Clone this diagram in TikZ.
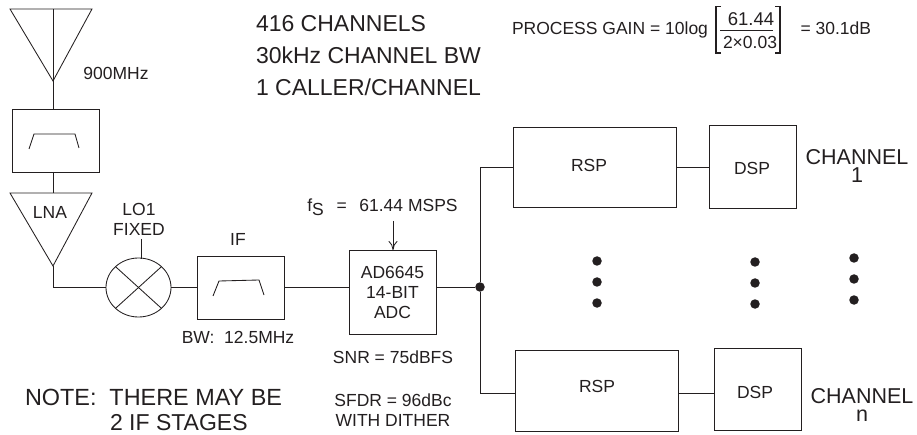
\documentclass[tikz,border=0pt]{standalone}
\usepackage{fontspec}
\setmainfont{Liberation Sans}
\usepackage{xcolor}
\usetikzlibrary{shapes.geometric,arrows.meta,positioning,calc}
\definecolor{inkdark}{RGB}{35,31,32}
\newcommand{\smalltext}{\fontsize{17.5}{20}\selectfont}
\newcommand{\bigtext}{\fontsize{23}{32}\selectfont}
\newcommand{\chantext}{\fontsize{21.5}{18}\selectfont}

\begin{document}
\begin{tikzpicture}[
        x=1pt, y=-1pt,
        node distance=33pt,
        line width=0.85pt, color=inkdark,
        every node/.style={inner sep=0pt, outer sep=0pt, text=inkdark},
        block/.style={rectangle, draw, minimum width=87pt, align=center, font=\smalltext},
        mixer/.style={ellipse, draw, minimum width=65pt, minimum height=59pt},
        label/.style={font=\smalltext, align=center},
        biglabel/.style={font=\bigtext, align=left},
        chanlabel/.style={font=\chantext, align=center},
        arrow/.style={-{Computer Modern Rightarrow[length=9pt,width=9pt]}},
        dot/.style={circle, fill=inkdark, minimum size=9.5pt}
    ]
        \useasboundingbox (0,0) rectangle (917,435);

        % Antenna
        \coordinate (antTip) at (53,81);
        \draw (10,9) -- (92,9) -- (antTip) -- cycle;
        \draw (53,9) -- (antTip);
        \node[label] (ant) at (116,73) {900MHz};

        % RF filter
        \node[block, minimum height=63pt] (rfFilter) at (56,140.5) {};
        \draw (29,149) -- (34,134) -- (75,134) -- (79,148);
        \draw (antTip) -- (antTip |- rfFilter.north);

        % LNA
        \coordinate (lnaTop) at (53,193);
        \coordinate (lnaTip) at (53,266);
        \draw (10,193) -- (92,193) -- (lnaTip) -- cycle;
        \node[label] (lna) at (50,212) {LNA};
        \draw (lnaTop |- rfFilter.south) -- (lnaTop);

        % Mixer
        \node[mixer] (mix) at (138.5,287.5) {};
        \draw (mix.north west) -- (mix.south east);
        \draw (mix.north east) -- (mix.south west);
        \node[label] (lo) at (139,219) {LO1\\FIXED};
        \draw (141,239) -- (141,259);
        \draw (lnaTip) |- (mix.west);

        % IF filter
        \node[block, minimum height=63pt] (ifFilter) at (241,287.5) {};
        \draw (213,296) -- (219,281) -- (259,280) -- (264,295);
        \node[label] (ifName) at (238,239) {IF};
        \node[label] (ifBw) at (238,337) {BW:\ \ 12.5MHz};
        \draw (mix.east) -- (ifFilter.west);

        % ADC
        \node[block, minimum height=84pt] (adc) at (392.5,292) {AD6645\\14-BIT\\ADC};
        \draw (ifFilter.east) -- (ifFilter.east -| adc.west);
        \node[label] (fs) at (382.5,207) {f\lower4pt\hbox{S}\ \ \,=\ \ \,61.44 MSPS};
        \coordinate (fsTop) at (393,221);
        \draw[arrow] (fsTop) -- (fsTop |- adc.north);
        \node[label] (snr) at (393,357) {SNR = 75dBFS};
        \node[label] (sfdr) at (393,410.5) {SFDR = 96dBc\\WITH DITHER};

        % Split
        \node[dot] (split) at (480,287) {};
        \draw (split -| adc.east) -- (split);

        % Channel 1
        \node[block, minimum width=163pt, minimum height=80pt] (rspOne) at (594.5,167) {};
        \node[label] (rspOneName) at (589,165) {RSP};
        \node[block, right=33pt of rspOne, minimum height=83pt] (dspOne) {};
        \node[label] (dspOneName) at (752,168) {DSP};
        \draw (rspOne.east) -- (dspOne.west |- rspOne.east);
        \draw (split) |- (rspOne.west);
        \node[chanlabel] (chanOne) at (857,166) {CHANNEL\\1};

        % Channel n
        \node[block, minimum width=163pt, minimum height=81pt] (rspLast) at (596.5,390.5) {};
        \node[label] (rspLastName) at (597,386) {RSP};
        \node[block, minimum height=82pt] (dspLast) at (758,389) {};
        \node[label] (dspLastName) at (755,392) {DSP};
        \draw ([yshift=-2.5pt]rspLast.east) -- ([yshift=-2.5pt]rspLast.east -| dspLast.west);
        \draw (split) |- ([yshift=-2.5pt]rspLast.west);
        \node[chanlabel] (chanLast) at (862,405) {CHANNEL\\n};

        % Dots
        \foreach \dx/\dy in {597/261, 597/282, 597/303, 755/262, 755/283, 755/304, 854/258, 854/279, 854/300}
            \node[dot] at (\dx,\dy) {};

        % Notes
        \node[biglabel, anchor=west] (info) at (256,56) {416 CHANNELS\\30kHz CHANNEL\ BW\\1 CALLER/CHANNEL};
        \node[biglabel, anchor=west, font=\fontsize{23.4}{32}\selectfont] (note) at (25,397) {NOTE:\ \ THERE MAY BE};
        \node[biglabel, anchor=west] (noteTwo) at (110,423) {2 IF STAGES};

        % Process gain
        \node[label, anchor=west] (gain) at (512,30) {PROCESS GAIN = 10log};
        \node[label, font=\fontsize{18.5}{20}\selectfont] (num) at (751,19) {61.44};
        \node[label] (den) at (750,42) {2×0.03};
        \draw (720,30.5) -- (773,30.5);
        \draw[line width=1.3pt] (721,6.5) -- (716,6.5) -- (716,53) -- (721,53);
        \draw[line width=1.3pt] (775,6.5) -- (780,6.5) -- (780,53) -- (775,53);
        \node[label, anchor=west] (gainEnd) at (800.5,28) {= 30.1dB};
    \end{tikzpicture}
\end{document}
